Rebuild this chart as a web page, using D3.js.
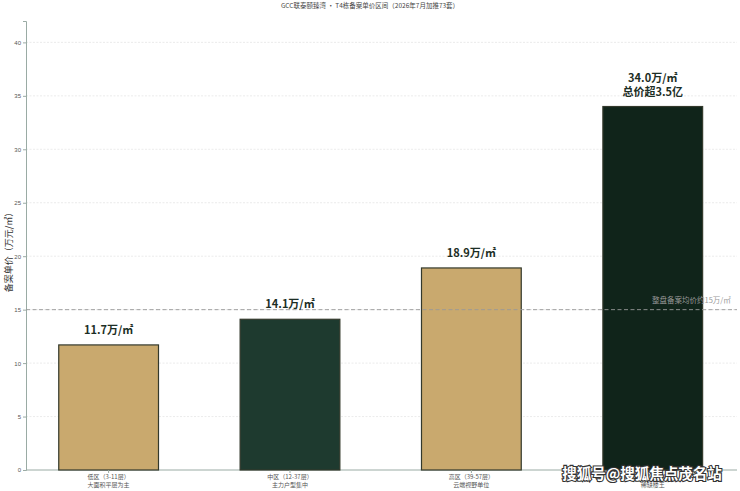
<!DOCTYPE html>
<html><head><meta charset="utf-8">
<script src="https://cdn.jsdelivr.net/npm/d3@7"></script>
<style>body{margin:0;background:#fff}svg{display:block;font-family:"Noto Sans CJK SC","Noto Sans",sans-serif}</style>
</head><body><svg id="c" width="740" height="491"></svg>
<script>
const categories = ["低区（3-11层）", "中区（12-37层）", "高区（39-57层）", "顶区（58-73层）"];
const subLabels = ["大面积平层为主", "主力户型集中", "云端视野单位", "稀缺楼王"];
const values = [11.7, 14.1, 18.9, 34.0];
const valueLabels = ["11.7万/㎡", "14.1万/㎡", "18.9万/㎡", "34.0万/㎡\n总价超3.5亿"];
const colors = ["#C9A96E", "#1E3A2F", "#C9A96E", "#10241A"];
const yTicks = [0, 5, 10, 15, 20, 25, 30, 35, 40];
const avgPrice = 15;
const title = "GCC联泰颐臻湾 · T4栋备案单价区间（2026年7月加推73套）";

const svg = d3.select("#c");
const x = d3.scaleLinear().domain([-0.45, 3.47]).range([27, 738]);
const y = d3.scaleLinear().domain([0, 42]).range([470, 21]);
const bw = 0.55;

svg.append("text").attr("x", 370).attr("y", 8).attr("text-anchor", "middle")
  .attr("font-size", 6.5).attr("fill", "#444").text(title);

// grid
svg.append("g").selectAll("line").data(yTicks.filter(d => d > 0)).join("line")
  .attr("x1", 26).attr("x2", 737).attr("y1", d => y(d)).attr("y2", d => y(d))
  .attr("stroke", "#e2e2e2").attr("stroke-width", 0.7).attr("stroke-dasharray", "2,1.5");

// y axis
const ya = svg.append("g").attr("transform", "translate(26,0)")
  .call(d3.axisLeft(y).tickValues(yTicks).tickSize(3).tickPadding(2));
ya.select(".domain").attr("stroke", "#9aaba4");
ya.selectAll(".tick line").attr("stroke", "#9aaba4");
ya.selectAll("text").attr("font-size", 6).attr("fill", "#555");

// x axis line
svg.append("line").attr("x1", 26).attr("x2", 737).attr("y1", 470).attr("y2", 470)
  .attr("stroke", "#9aaba4").attr("stroke-width", 1);

// bars
svg.append("g").selectAll("rect").data(values).join("rect")
  .attr("x", (d, i) => x(i - bw / 2)).attr("width", (d, i) => x(i + bw / 2) - x(i - bw / 2))
  .attr("y", d => y(d)).attr("height", d => y(0) - y(d))
  .attr("fill", (d, i) => colors[i]).attr("stroke", "#33392c").attr("stroke-width", 1.2);

// avg line
svg.append("line").attr("x1", 26).attr("x2", 737).attr("y1", y(avgPrice)).attr("y2", y(avgPrice))
  .attr("stroke", "#999").attr("stroke-width", 0.9).attr("stroke-dasharray", "4,2.5");
svg.append("text").attr("x", 652).attr("y", y(avgPrice) - 7).attr("font-size", 7.5)
  .attr("fill", "#999").text("整盘备案均价约" + avgPrice + "万/㎡");

// value labels
values.forEach((v, i) => {
  const lines = valueLabels[i].split("\n");
  const baseY = y(v) - 11 - (lines.length - 1) * 14;
  lines.forEach((l, k) => svg.append("text").attr("x", x(i)).attr("y", baseY + k * 14)
    .attr("text-anchor", "middle").attr("font-size", 11).attr("font-weight", "bold")
    .attr("fill", "#1c2e25").text(l));
});

// x labels
categories.forEach((c, i) => {
  svg.append("line").attr("x1", x(i)).attr("x2", x(i)).attr("y1", 470).attr("y2", 473).attr("stroke", "#9aaba4");
  const t = svg.append("text").attr("text-anchor", "middle").attr("font-size", 6).attr("fill", "#555");
  t.append("tspan").attr("x", x(i)).attr("y", 479).text(c);
  t.append("tspan").attr("x", x(i)).attr("y", 487).text(subLabels[i]);
});

// y label
svg.append("text").attr("transform", "translate(12,250) rotate(-90)").attr("text-anchor", "middle")
  .attr("font-size", 9).attr("fill", "#333").text("备案单价（万元/㎡）");

// watermark
svg.append("text").attr("x", 642).attr("y", 479).attr("text-anchor", "middle")
  .attr("font-size", 14.5).attr("font-weight", "bold").attr("fill", "#fff")
  .attr("stroke", "#333").attr("stroke-width", 2.2).attr("paint-order", "stroke")
  .text("搜狐号@搜狐焦点茂名站");
</script></body></html>
